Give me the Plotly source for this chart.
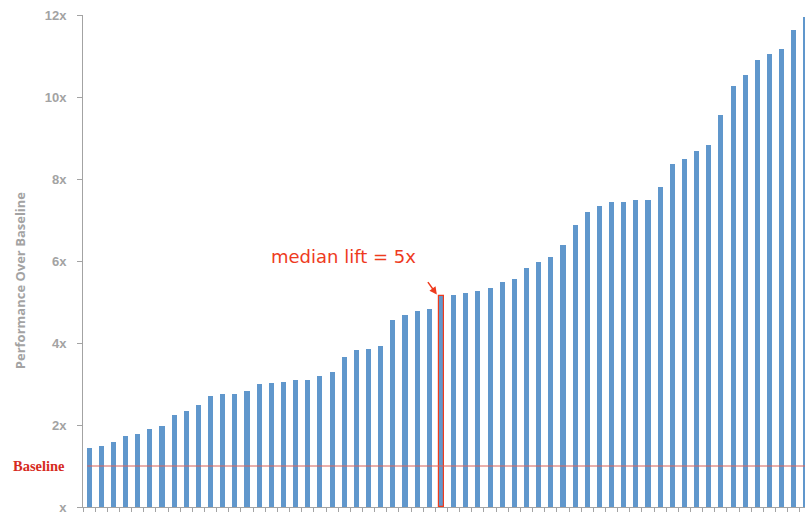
import plotly.graph_objects as go

# Performance over baseline for each campaign, sorted ascending
lift = [1.45, 1.48, 1.59, 1.74, 1.77, 1.91, 1.98, 2.24, 2.35, 2.50,
        2.70, 2.76, 2.76, 2.83, 2.99, 3.02, 3.05, 3.09, 3.09, 3.19,
        3.29, 3.66, 3.82, 3.85, 3.93, 4.55, 4.68, 4.77, 4.82, 5.15,
        5.16, 5.23, 5.27, 5.35, 5.50, 5.56, 5.84, 5.98, 6.10, 6.40,
        6.89, 7.20, 7.33, 7.44, 7.44, 7.48, 7.50, 7.80, 8.37, 8.48,
        8.69, 8.84, 9.56, 10.26, 10.54, 10.91, 11.06, 11.17, 11.63, 11.94]
median_idx = 29
baseline = 1.0

y_tickvals = [0, 2, 4, 6, 8, 10, 12]
y_ticktext = ["x", "2x", "4x", "6x", "8x", "10x", "12x"]

BAR_BLUE = "#6097CC"
RED = "#EE3B1E"
GRAY = "#A3A3A3"

idx = list(range(len(lift)))
line_colors = [RED if i == median_idx else "rgba(0,0,0,0)" for i in idx]
line_widths = [1.2 if i == median_idx else 0 for i in idx]

fig = go.Figure()
fig.add_trace(go.Bar(
    x=idx, y=lift, width=0.42,
    marker=dict(color=BAR_BLUE, line=dict(color=line_colors, width=line_widths)),
    hoverinfo="skip",
))

# Baseline reference
fig.add_shape(type="line", xref="x", yref="y", x0=-0.15, x1=len(lift) + 1,
              y0=baseline, y1=baseline, line=dict(color="#D8625A", width=1),
              layer="above")
fig.add_annotation(text="<b>Baseline</b>", xref="paper", yref="y", x=0, y=baseline,
                   xanchor="right", yanchor="middle", xshift=-16, showarrow=False,
                   font=dict(family="Liberation Serif", size=14.5, color="#D62B1E"))

# Median callout
fig.add_annotation(text=f"median lift = {round(lift[median_idx])}x", xref="x", yref="y",
                   x=20.95, y=6.12, showarrow=False,
                   font=dict(family="DejaVu Sans", size=18, color=RED))
fig.add_annotation(text="", xref="x", yref="y", x=median_idx - 0.38, y=lift[median_idx] + 0.03,
                   ax=-10, ay=-14, showarrow=True, arrowhead=2, arrowsize=1,
                   arrowwidth=1.5, arrowcolor=RED)

# Y-axis title
fig.add_annotation(text="<b>Performance Over Baseline</b>", xref="paper", yref="paper",
                   x=0, y=0.461, xshift=-63, xanchor="center", yanchor="middle",
                   textangle=-90, showarrow=False,
                   font=dict(family="Open Sans", size=13, color=GRAY))

fig.update_layout(
    width=805, height=515,
    margin=dict(l=83, r=0, t=15, b=8),
    paper_bgcolor="white", plot_bgcolor="white",
    showlegend=False, bargap=0,
    xaxis=dict(range=[-0.5, 58.92], showgrid=False, zeroline=False,
               showline=True, linecolor=GRAY, linewidth=1,
               tickmode="array", tickvals=[i - 0.5 for i in range(len(lift) + 1)],
               ticktext=[""] * (len(lift) + 1), ticks="outside", ticklen=4,
               tickcolor=GRAY, showticklabels=False),
    yaxis=dict(range=[0, 12], showgrid=False, zeroline=False,
               showline=True, linecolor=GRAY, linewidth=1,
               tickmode="array", tickvals=y_tickvals, ticktext=y_ticktext,
               ticks="outside", ticklen=5, tickcolor=GRAY, ticklabelstandoff=8,
               tickfont=dict(family="Liberation Sans", size=13, color=GRAY,
                             weight="bold")),
)

fig.write_html("out.html")
